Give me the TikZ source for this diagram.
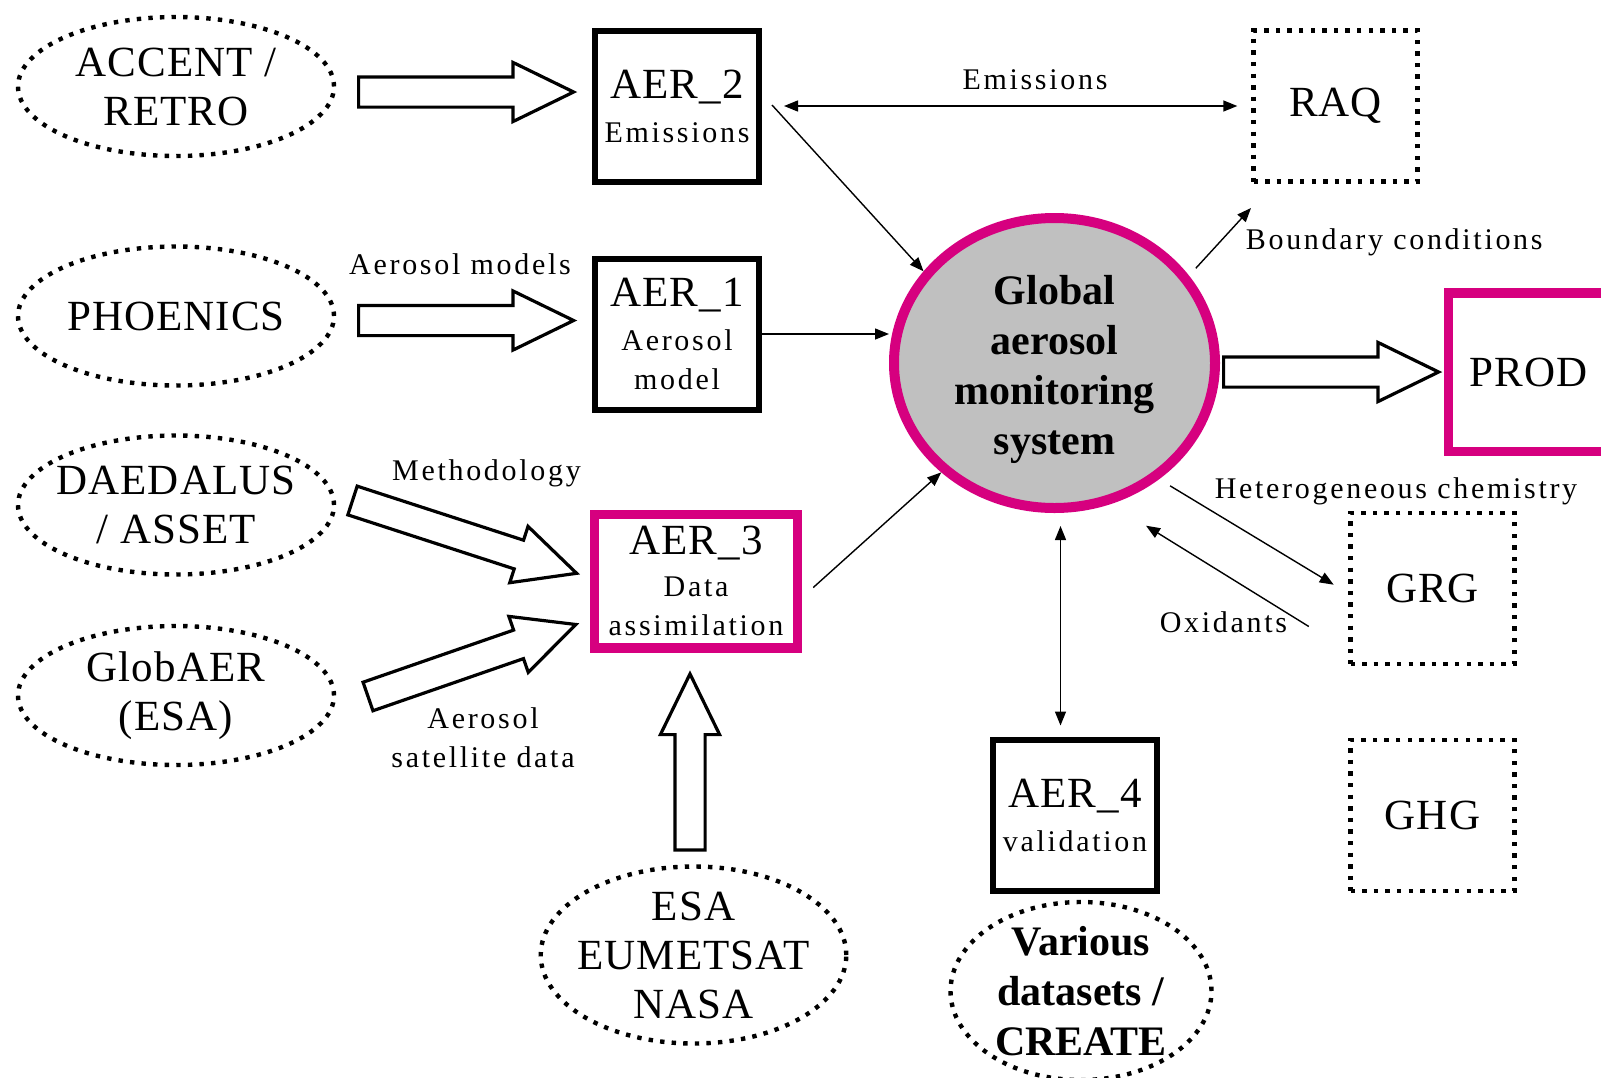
\documentclass[tikz,border=0pt]{standalone}
\usepackage{fontspec}
\setmainfont{Liberation Serif}
\newfontfamily\capfam[LetterSpace=2.5]{Liberation Serif}
\newfontfamily\lblfam[LetterSpace=9]{Liberation Serif}
\newcommand\capfont{\capfam\fontsize{21.5}{24.5}\selectfont}
\newcommand\lblfont{\lblfam\fontsize{15}{19.5}\selectfont}
\newcommand\sysfont{\bfseries\fontsize{21}{25}\selectfont}
\usetikzlibrary{shapes.geometric,shapes.arrows,arrows.meta,calc}
\definecolor{aermagenta}{RGB}{214,0,127}
\definecolor{aergray}{RGB}{192,192,192}
\tikzset{
  dotline/.style={line width=2.2pt,dash pattern=on 2.2pt off 3.6pt},
  projell/.style={draw,dotline,ellipse,inner xsep=-4pt,inner ysep=-6pt,align=center,font=\capfont,minimum width=158pt,minimum height=69.5pt},
  wpbox/.style={draw,line width=3pt,inner sep=0pt,align=center,font=\lblfont,minimum width=82pt,minimum height=75.5pt},
  keybox/.style={wpbox,draw=aermagenta,line width=4.75pt},
  userbox/.style={draw,dotline,inner sep=0pt,font=\capfont,minimum width=82pt,minimum height=75.5pt},
  bigflow/.style={single arrow,draw,line width=1.6pt,fill=white,inner xsep=0pt,inner ysep=6.75pt,single arrow head extend=7.25pt,single arrow tip angle=52,anchor=tail,minimum height=#1},
  link/.style={line width=0.7pt,-{Triangle[length=7pt,width=5.5pt]}},
  twoway/.style={line width=0.7pt,{Triangle[length=7pt,width=5.5pt]}-{Triangle[length=7pt,width=5.5pt]}},
  lbl/.style={font=\lblfont,inner sep=0pt,align=center}
}
\begin{document}
\begin{tikzpicture}[x=0.5pt,y=-0.5pt]
\useasboundingbox[fill=white] (0,0) rectangle (1601,1077);
% projects
\node[projell] (accent) at (176,86.5) {ACCENT /\\RETRO};
\node[projell] (phoenics) at (176,316) {PHOENICS};
\node[projell] (daedalus) at (176,505) {DAEDALUS\\/ ASSET};
\node[projell] (globaer) at (176,695.5) {GlobAER\\(ESA)};
\node[projell,minimum width=152pt,minimum height=88.5pt] (agencies) at (693.5,955) {ESA\\EUMETSAT\\NASA};
\node[projell,minimum width=130.5pt,minimum height=89pt,font=\sysfont] (datasets) at (1081,991) {Various\\datasets /\\CREATE};
% work packages
\node[wpbox] (aer2) at (677,106) {{\capfont AER\_2}\\[2.5pt]Emissions};
\node[wpbox] (aer1) at (677,334) {{\capfont AER\_1}\\[2.5pt]Aerosol\\model};
\node[keybox,minimum width=101.5pt,minimum height=66.75pt] (aer3) at (696,581) {{\capfont AER\_3}\\[1.5pt]Data\\assimilation};
\node[wpbox] (aer4) at (1075,815.5) {{\capfont AER\_4}\\[2.5pt]validation};
\node[ellipse,draw=aermagenta,line width=5pt,fill=aergray,inner sep=0pt,minimum width=160.5pt,minimum height=145pt,align=center,font=\sysfont] (glob) at (1054.5,363) {\rule{0pt}{21pt}Global\\aerosol\\monitoring\\system};
% users
\node[userbox] (raq) at (1335.5,106) {RAQ};
\node[userbox] (grg) at (1432.5,588.5) {GRG};
\node[userbox] (ghg) at (1432.5,815.5) {GHG};
\node[keybox,font=\capfont,minimum width=80pt,minimum height=79.25pt] (prod) at (1528.5,372) {PROD};
% hollow arrows
\node[bigflow=107.5pt] (in1) at (357,92) {};
\node[bigflow=107.5pt] (in2) at (357,320.5) {};
\node[bigflow=117.8pt,rotate=-18] (in3) at (351,500) {};
\node[bigflow=110pt,rotate=19.1] (in4) at (366.5,697) {};
\node[bigflow=88pt,rotate=90] (in5) at (690,851.5) {};
\node[bigflow=107.5pt] (out1) at (1222,372) {};
% thin links
\draw[twoway] ($(aer2.east)+(22,0)$) -- ($(raq.west)+(-14,0)$);
\draw[link] ($(aer2.east)+(10,-1)$) -- (glob.145);
\draw[link] (aer1.east) -- (aer1.east -| glob.west);
\draw[link] ($(aer3.east)+(11,6.5)$) -- (glob.224);
\coordinate (bctip) at (1251,208);
\draw[link,shorten <=5pt] (glob.33) -- (bctip);
\draw[link,shorten <=6.4pt] (glob.312) -- ($(grg.west)+(-14.6,-3.8)$);
\draw[link] ($(grg.west)+(-39.5,38)$) -- ($(glob.south)+(91.5,12.7)$);
\draw[twoway] ($(glob.south)+(6,13)$) -- ($(aer4.north)+(-14.5,-11.5)$);
% labels
\node[lbl] (lblemis) at (1035,80) {Emissions};
\node[lbl] (lblmodels) at (460,264) {Aerosol models};
\node[lbl] (lblmethod) at (486.5,473.5) {Methodology};
\node[lbl] (lblsat) at (483,737.5) {Aerosol\\satellite data};
\node[lbl,anchor=west] (lblbound) at (1245.5,242) {Boundary conditions};
\node[lbl] (lblhet) at (1396,491) {Heterogeneous chemistry};
\node[lbl] (lbloxid) at (1223.5,622) {Oxidants};
\end{tikzpicture}
\end{document}
